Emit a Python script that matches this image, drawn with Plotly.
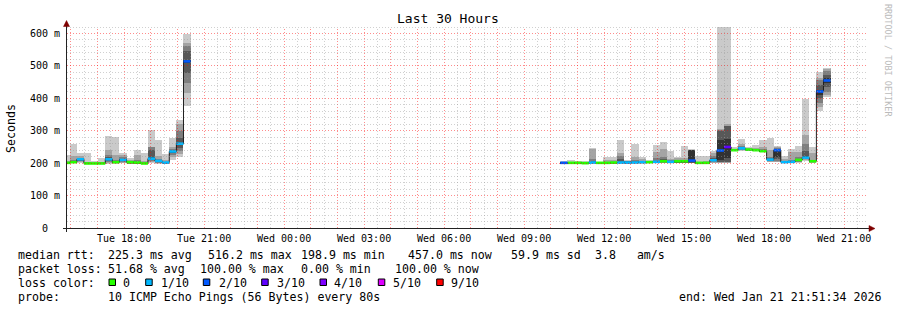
import math
import plotly.graph_objects as go
from datetime import datetime, timedelta

# ---------------- data ----------------
chart_title = "Last 30 Hours"
y_title = "Seconds"
watermark = "RRDTOOL / TOBI OETIKER"

window_start = "2026-01-20 15:51:34"
window_end = "2026-01-21 21:51:34"
bin_origin = "2026-01-20 15:57:40"
bin_minutes = 16

x_tick_times = ["2026-01-20 18:00:00", "2026-01-20 21:00:00", "2026-01-21 00:00:00",
                "2026-01-21 03:00:00", "2026-01-21 06:00:00", "2026-01-21 09:00:00",
                "2026-01-21 12:00:00", "2026-01-21 15:00:00", "2026-01-21 18:00:00",
                "2026-01-21 21:00:00"]
x_tick_labels = ["Tue 18:00", "Tue 21:00", "Wed 00:00", "Wed 03:00", "Wed 06:00",
                 "Wed 09:00", "Wed 12:00", "Wed 15:00", "Wed 18:00", "Wed 21:00"]
y_tick_values = [0, 100, 200, 300, 400, 500, 600]
y_tick_labels = ["0\u00a0\u00a0", "100 m", "200 m", "300 m", "400 m", "500 m", "600 m"]
y_max = 620

# bin index (16-minute steps from bin_origin), median rtt (ms), lost pings of 10, sorted pings (ms)
bin_k = [-1, 0, 1, 2, 3, 4, 5, 6, 7, 8, 9, 10, 11, 12, 13, 14, 15, 16,
         69, 70, 71, 72, 73, 74, 75, 76, 77, 78, 79, 80, 81, 82, 83, 84, 85, 86, 87,
         88, 89, 90, 91, 92, 93, 94, 95, 96, 97, 98, 99, 100, 101, 102, 103, 104, 105, 106]
median_ms = [201, 203, 212, 199, 199, 199, 212, 203, 210, 203, 202, 199, 214, 207, 202, 236, 260, 514,
             201, 201, 201, 200, 202, 201, 201, 202, 202, 202, 202, 203, 203, 204, 206, 204, 206, 206, 208,
             201, 201, 209, 239, 250, 240, 246, 242, 240, 237, 211, 240, 203, 204, 210, 217, 206, 421, 455]
loss_of_10 = [0, 0, 1, 0, 0, 0, 1, 0, 1, 0, 0, 0, 1, 1, 1, 1, 1, 2,
              2, 0, 0, 0, 1, 0, 0, 0, 1, 1, 1, 1, 0, 1, 0, 1, 0, 0, 2,
              0, 0, 1, 2, 3, 0, 1, 0, 0, 0, 1, 2, 1, 1, 0, 1, 0, 2, 2]
pings_ms = [
    [198, 199, 200, 200, 201, 201, 202, 203, 206, 226],
    [199, 200, 201, 202, 203, 204, 206, 210, 222, 260],
    [202, 204, 206, 209, 211, 213, 215, 217, 222, 230],
    [197, 197, 198, 198, 199, 199, 200, 201, 204, 230],
    [197, 198, 198, 199, 199, 199, 200, 200, 202, 207],
    [197, 198, 198, 199, 199, 199, 200, 201, 205, 217],
    [198, 201, 204, 207, 210, 213, 218, 226, 240, 285],
    [198, 199, 200, 201, 202, 203, 205, 210, 224, 282],
    [200, 202, 204, 206, 209, 211, 214, 218, 224, 230],
    [198, 199, 200, 201, 202, 203, 204, 206, 209, 216],
    [197, 198, 199, 200, 201, 202, 204, 210, 226, 240],
    [196, 197, 198, 198, 199, 199, 200, 202, 206, 230],
    [200, 203, 206, 210, 213, 216, 240, 249, 250, 301],
    [198, 200, 202, 204, 206, 208, 210, 214, 222, 271],
    [198, 199, 200, 201, 202, 202, 203, 205, 210, 228],
    [210, 218, 225, 230, 234, 238, 242, 245, 250, 278],
    [218, 228, 238, 246, 255, 263, 277, 300, 322, 334],
    [375, 417, 448, 478, 509, 519, 545, 560, 570, 599],
    [198, 199, 199, 200, 200, 201, 202, 203, 204, 206],
    [198, 199, 199, 200, 200, 201, 202, 203, 205, 210],
    [198, 199, 200, 200, 201, 201, 202, 203, 204, 206],
    [198, 199, 199, 200, 200, 201, 202, 203, 205, 208],
    [198, 199, 200, 201, 202, 203, 205, 212, 245, 246],
    [198, 199, 200, 200, 201, 201, 202, 203, 204, 205],
    [198, 199, 200, 200, 201, 202, 203, 205, 210, 220],
    [198, 199, 200, 201, 201, 202, 203, 205, 210, 220],
    [198, 199, 200, 201, 202, 203, 212, 221, 230, 270],
    [198, 199, 200, 201, 202, 203, 204, 205, 207, 210],
    [198, 199, 200, 201, 202, 203, 205, 210, 220, 260],
    [198, 199, 200, 201, 202, 203, 205, 208, 213, 220],
    [199, 200, 201, 202, 203, 203, 204, 205, 207, 210],
    [199, 200, 201, 202, 203, 205, 208, 215, 235, 257],
    [199, 200, 201, 203, 205, 207, 212, 220, 245, 264],
    [199, 200, 201, 202, 203, 205, 206, 208, 212, 237],
    [200, 201, 202, 203, 205, 206, 207, 209, 215, 220],
    [200, 201, 202, 203, 205, 206, 207, 209, 215, 254],
    [199, 200, 201, 202, 203, 240, 241, 242, 242, 243],
    [198, 199, 200, 200, 201, 201, 202, 203, 205, 223],
    [198, 199, 200, 200, 201, 201, 202, 203, 206, 223],
    [200, 202, 204, 206, 208, 210, 215, 222, 230, 238],
    [200, 202, 203, 205, 210, 273, 300, 302, 304, 640],
    [200, 202, 203, 205, 215, 276, 314, 316, 320, 640],
    [236, 237, 238, 239, 240, 240, 241, 242, 245, 251],
    [238, 240, 242, 244, 245, 247, 249, 252, 258, 276],
    [238, 239, 240, 241, 242, 242, 243, 245, 248, 251],
    [237, 238, 239, 240, 240, 241, 242, 244, 248, 256],
    [233, 234, 235, 236, 237, 238, 240, 243, 250, 270],
    [203, 205, 207, 209, 210, 212, 215, 220, 240, 278],
    [203, 205, 208, 212, 220, 238, 242, 246, 250, 252],
    [200, 201, 202, 202, 203, 204, 205, 207, 212, 222],
    [200, 201, 202, 203, 204, 205, 207, 210, 233, 244],
    [201, 203, 205, 207, 209, 211, 214, 220, 233, 254],
    [208, 210, 213, 215, 216, 220, 237, 260, 288, 399],
    [201, 202, 203, 204, 205, 207, 208, 210, 230, 249],
    [360, 372, 387, 400, 410, 425, 440, 455, 464, 480],
    [404, 410, 421, 435, 448, 462, 473, 485, 490, 495],
]

loss_levels = [0, 1, 2, 3, 4, 5, 9]
loss_labels = ["0", "1/10", "2/10", "3/10", "4/10", "5/10", "9/10"]
loss_colors = ["#26ff00", "#00b8ff", "#0059ff", "#5e00ff", "#7e00ff", "#dd00ff", "#ff0000"]

rtt_avg_ms, rtt_max_ms, rtt_min_ms, rtt_now_ms = 225.3, 516.2, 198.9, 457.0
rtt_sd_ms, am_ratio = 59.9, 3.8
loss_avg_pct, loss_max_pct, loss_min_pct, loss_now_pct = 51.68, 100.00, 0.00, 100.00
probe_text = "10 ICMP Echo Pings (56 Bytes) every 80s"
end_text = "end: Wed Jan 21 21:51:34 2026"

# ---------------- style / layout ----------------
MONO = "DejaVu Sans Mono, monospace"
smoke_shades = ["#cacaca", "#a4a4a4", "#7e7e7e", "#585858", "#323232"]
MAJOR = "rgba(255,0,0,0.45)"
MINOR = "rgba(150,150,150,0.45)"
GRID_DASH = "1px,2px"
AXIS = "#222222"
ARROW = "#7f0000"
L, T, W, H = 67, 27, 800, 201
FIG_W, FIG_H = 897, 310


def px(x):
    return (x - L) / W


def py(y):
    return (T + H - y) / H


def nb(s):
    return s.replace(" ", "\u00a0")


fmt = "%Y-%m-%d %H:%M:%S"
origin = datetime.strptime(bin_origin, fmt)
step = timedelta(minutes=bin_minutes)
starts = [origin + k * step for k in bin_k]
ends = [s + step for s in starts]
centers = [s + step / 2 for s in starts]

fig = go.Figure()

# smoke
for i, shade in enumerate(smoke_shades):
    fig.add_trace(go.Bar(
        x=centers,
        base=[p[i] for p in pings_ms],
        y=[p[9 - i] - p[i] for p in pings_ms],
        width=[bin_minutes * 60000] * len(centers),
        marker=dict(color=shade, line=dict(width=0)),
        hoverinfo="skip", showlegend=False))

# median step line
sx, sy = [], []
prev = None
for k, s, e, m in zip(bin_k, starts, ends, median_ms):
    if prev is not None and k != prev + 1:
        sx.append(None)
        sy.append(None)
    sx += [s, e]
    sy += [m, m]
    prev = k
fig.add_trace(go.Scatter(x=sx, y=sy, mode="lines", line=dict(color="#202020", width=1),
                         hoverinfo="skip", showlegend=False))


def loss_class(n):
    if n <= 5:
        return n
    return 9 if n >= 9 else 5


for lvl, col in zip(loss_levels, loss_colors):
    mx, my = [], []
    for s, e, m, n in zip(starts, ends, median_ms, loss_of_10):
        if loss_class(n) == lvl:
            mx += [s, e, None]
            my += [m, m, None]
    if mx:
        fig.add_trace(go.Scatter(x=mx, y=my, mode="lines", line=dict(color=col, width=2.6),
                                 hoverinfo="skip", showlegend=False))

shapes = []
# grid (drawn above the graph, like rrdtool), snapped to pixel centres
t0 = datetime.strptime(window_start, fmt)
t1 = datetime.strptime(window_end, fmt)
span = (t1 - t0).total_seconds()


def grid_x(tt):
    xp = L + (tt - t0).total_seconds() / span * W
    return px(math.floor(xp) + 0.5)


def grid_y(v):
    yp = T + H - v / y_max * H
    return py(math.floor(yp) + 0.5)


t = t0.replace(minute=0, second=0)
while t <= t1:
    for tt, colr in ((t, MAJOR), (t + timedelta(minutes=30), MINOR)):
        if t0 < tt <= t1:
            gx = grid_x(tt)
            shapes.append(dict(type="line", xref="paper", yref="paper", x0=gx, x1=gx, y0=0, y1=1,
                               line=dict(color=colr, width=1, dash=GRID_DASH), layer="above"))
    t += timedelta(hours=1)
for v in range(20, y_max + 1, 20):
    colr = MAJOR if v % 100 == 0 else MINOR
    gy = grid_y(v)
    shapes.append(dict(type="line", xref="paper", yref="paper", x0=0, x1=1, y0=gy, y1=gy,
                       line=dict(color=colr, width=1, dash=GRID_DASH), layer="above"))

# axes with arrows
shapes.append(dict(type="line", xref="paper", yref="paper", x0=px(63), x1=px(869), y0=py(228.5), y1=py(228.5),
                   line=dict(color=AXIS, width=1), layer="above"))
shapes.append(dict(type="line", xref="paper", yref="paper", x0=px(66.5), x1=px(66.5), y0=py(232), y1=py(26),
                   line=dict(color=AXIS, width=1), layer="above"))
shapes.append(dict(type="path", xref="paper", yref="paper",
                   path=f"M {px(869)},{py(225.5)} L {px(875)},{py(228.5)} L {px(869)},{py(231.5)} Z",
                   fillcolor=ARROW, line=dict(color=ARROW, width=0.5), layer="above"))
shapes.append(dict(type="path", xref="paper", yref="paper",
                   path=f"M {px(63.5)},{py(26.5)} L {px(66.5)},{py(20.5)} L {px(69.5)},{py(26.5)} Z",
                   fillcolor=ARROW, line=dict(color=ARROW, width=0.5), layer="above"))

annotations = []


def ann(text, x, y, size=11.6, xanchor="left", angle=0, color="#000000"):
    annotations.append(dict(text=nb(text), x=px(x), y=py(y), xref="paper", yref="paper",
                            xanchor=xanchor, yanchor="middle", showarrow=False, textangle=angle,
                            borderpad=0, font=dict(family=MONO, size=size, color=color)))


ann(chart_title, 447.5, 19, size=13, xanchor="center")
ann(y_title, 11, 128, xanchor="center", angle=-90)
ann(watermark, 888, 60, size=8.5, xanchor="center", angle=90, color="#bbbbbb")

row_y = [254.5, 268.5, 282.5, 296.5]
ann("median rtt:", 16.5, row_y[0])
ann(f"{rtt_avg_ms:.1f} ms avg", 107, row_y[0])
ann(f"{rtt_max_ms:.1f} ms max", 207, row_y[0])
ann(f"{rtt_min_ms:.1f} ms min", 299.5, row_y[0])
ann(f"{rtt_now_ms:.1f} ms now", 407, row_y[0])
ann(f"{rtt_sd_ms:.1f} ms sd", 510, row_y[0])
ann(f"{am_ratio:.1f}   am/s", 594, row_y[0])

ann("packet loss:", 16.5, row_y[1])
ann(f"{loss_avg_pct:.2f} % avg", 107, row_y[1])
ann(f"{loss_max_pct:.2f} % max", 199, row_y[1])
ann(f"{loss_min_pct:.2f} % min", 299.5, row_y[1])
ann(f"{loss_now_pct:.2f} % now", 394, row_y[1])

ann("loss color:", 16.5, row_y[2])
swatch_x = [109, 145.7, 203.3, 261.7, 320, 378.3, 436.7]
label_x = [122, 159.5, 218, 275.5, 333, 391.5, 450]
for sx0, lx, lab, col in zip(swatch_x, label_x, loss_labels, loss_colors):
    shapes.append(dict(type="rect", xref="paper", yref="paper", x0=px(sx0), x1=px(sx0 + 6.5),
                       y0=py(285.5), y1=py(279), fillcolor=col, line=dict(color="#000000", width=1),
                       layer="above"))
    ann(lab, lx, row_y[2])

ann("probe:", 16.5, row_y[3])
ann(probe_text, 107, row_y[3])
ann(end_text, 678, row_y[3])

fig.update_layout(
    width=FIG_W, height=FIG_H,
    margin=dict(l=L, r=FIG_W - L - W, t=T, b=FIG_H - T - H, pad=0),
    paper_bgcolor="white", plot_bgcolor="white",
    barmode="overlay", bargap=0, showlegend=False,
    font=dict(family=MONO, size=10, color="#000000"),
    shapes=shapes, annotations=annotations,
)
fig.update_xaxes(type="date", range=[window_start, window_end], tickmode="array",
                 tickvals=x_tick_times, ticktext=x_tick_labels, showgrid=False, zeroline=False,
                 showline=False, ticks="", tickfont=dict(family=MONO, size=10, color="#000000"),
                 ticklabelstandoff=3)
fig.update_yaxes(range=[0, y_max], tickmode="array", tickvals=y_tick_values, ticktext=y_tick_labels,
                 showgrid=False, zeroline=False, showline=False, ticks="",
                 tickfont=dict(family=MONO, size=10, color="#000000"), ticklabelstandoff=6)

fig.write_html("out.html")
